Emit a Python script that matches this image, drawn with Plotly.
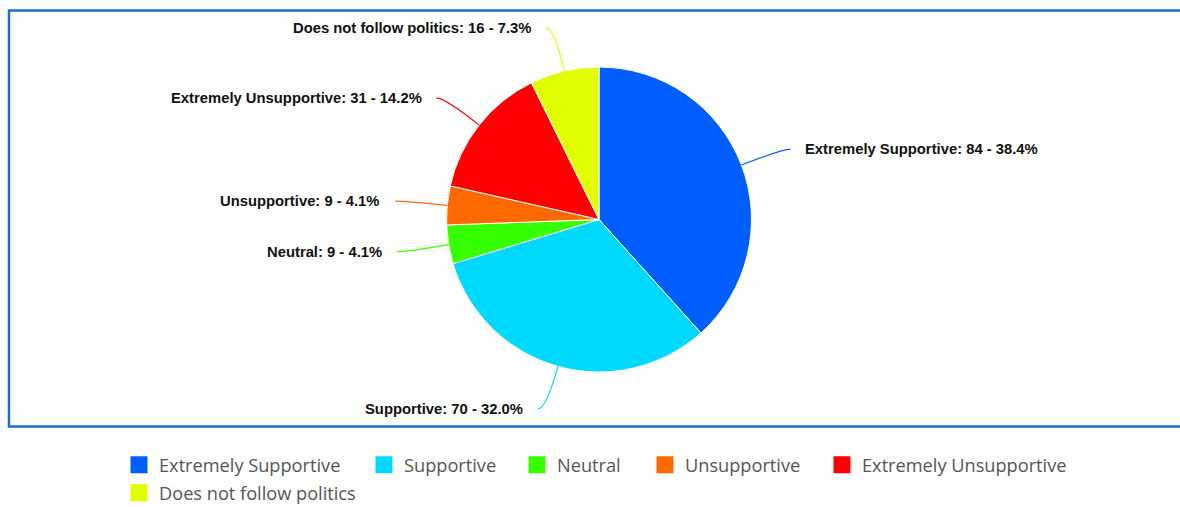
import math
import plotly.graph_objects as go

categories = ["Extremely Supportive", "Supportive", "Neutral", "Unsupportive",
              "Extremely Unsupportive", "Does not follow politics"]
counts = [84, 70, 9, 9, 31, 16]
colors = ["#005eff", "#00d9ff", "#36ff00", "#ff6a00", "#ff0000", "#e1ff00"]

# legend layout (page pixels): where each entry's text starts, and row centre
legend_text_x = [159, 404, 557, 685, 862, 159]
legend_row_y = [465, 465, 465, 465, 465, 493]

# figure is a little taller than the 507px window so the legend never pushes margins
W, H = 1180, 530
CX, CY, R = 599, 219.5, 152.5   # pie centre / radius (px)
LABEL_R = R + 44


def px(x):
    return x / W


def py(y):
    return 1 - y / H


fig = go.Figure()
# small helper pies hidden beneath the main pie; they only supply legend entries
hr = 20
for i, (cat, val, col) in enumerate(zip(categories, counts, colors)):
    fig.add_trace(go.Pie(
        labels=[cat], values=[val], sort=False, textinfo="none", hoverinfo="skip",
        showlegend=True, legend="legend" if i == 0 else f"legend{i + 1}",
        marker=dict(colors=[col], line=dict(color=[col], width=5)),
        domain=dict(x=[px(CX - hr), px(CX + hr)], y=[py(CY + hr), py(CY - hr)]),
    ))

fig.add_trace(go.Pie(
    labels=categories, values=counts, sort=False, direction="clockwise",
    rotation=0, textinfo="none", hoverinfo="label+value+percent", showlegend=False,
    marker=dict(colors=colors, line=dict(color="white", width=1)),
    domain=dict(x=[px(CX - R), px(CX + R)], y=[py(CY + R), py(CY - R)]),
))

total = sum(counts)
annotations = []
shapes = []
cum = 0
for cat, val, col in zip(categories, counts, colors):
    mid = (cum + val / 2) / total * 2 * math.pi
    cum += val
    sx, sy = math.sin(mid), -math.cos(mid)
    ex, ey = CX + R * sx, CY + R * sy
    lx, ly = CX + LABEL_R * sx, CY + LABEL_R * sy
    side = 1 if sx >= 0 else -1
    endx = lx + side * 8
    path = f"M {px(ex)},{py(ey)} Q {px(lx)},{py(ly)} {px(endx)},{py(ly)}"
    shapes.append(dict(type="path", xref="paper", yref="paper", path=path,
                       line=dict(color=col, width=1.2)))
    pct = val / total * 100
    annotations.append(dict(
        x=px(lx + side * 21), y=py(ly), xref="paper", yref="paper",
        text=f"<b>{cat}: {val} - {pct:.1f}%</b>", showarrow=False,
        xanchor="left" if side > 0 else "right", yanchor="middle",
        font=dict(family="Liberation Sans, Arial, sans-serif", size=14.8, color="#111"),
    ))

# chart frame
shapes.append(dict(type="rect", xref="paper", yref="paper",
                   x0=px(9), x1=px(W + 10), y0=py(426.5), y1=py(10.5),
                   line=dict(color="#1a6fc8", width=2.5), layer="below"))

layout = dict(
    width=W, height=H,
    margin=dict(l=0, r=0, t=0, b=0),
    paper_bgcolor="white", plot_bgcolor="white",
    shapes=shapes, annotations=annotations,
    showlegend=True,
)
for i, (tx, ry) in enumerate(zip(legend_text_x, legend_row_y)):
    key = "legend" if i == 0 else f"legend{i + 1}"
    layout[key] = dict(
        orientation="h", x=px(tx - 40), xanchor="left", y=py(ry), yanchor="middle",
        font=dict(family="Open Sans, sans-serif", size=18.2, color="#555"),
        bgcolor="rgba(0,0,0,0)",
    )
fig.update_layout(**layout)

post = (
    "document.documentElement.style.overflow='hidden';"
    "document.body.style.margin='0';document.body.style.overflow='hidden';"
    "var gd=document.getElementById('{plot_id}');"
    "gd.style.position='fixed';gd.style.left='0px';gd.style.top='0px';"
)
fig.write_html("out.html", config={"displayModeBar": False}, post_script=post)
